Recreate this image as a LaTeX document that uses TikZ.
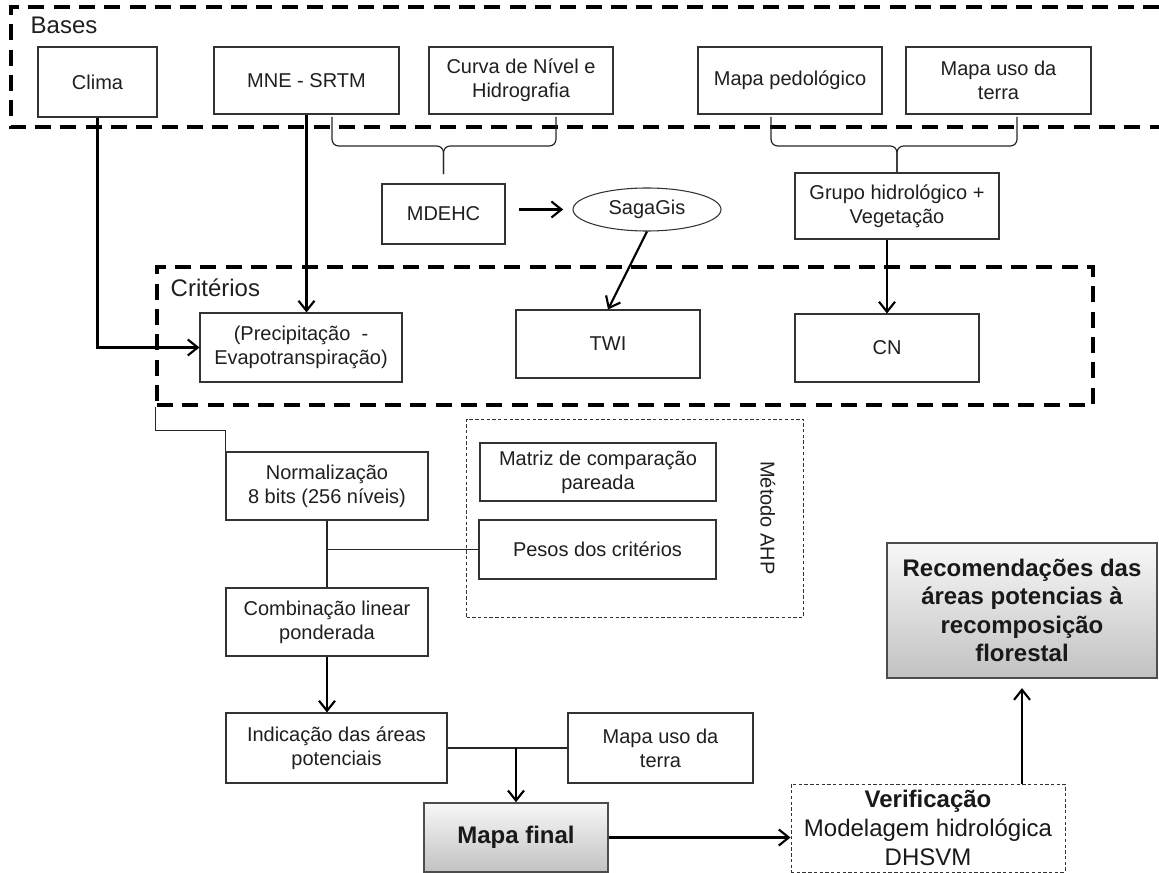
\documentclass[tikz,border=0pt]{standalone}
\usepackage{fontspec}
\setmainfont{Liberation Sans}
\usetikzlibrary{arrows.meta,shapes.geometric}
\newcommand{\pxl}{0.75pt}
\begin{document}
\begin{tikzpicture}[x=0.75pt, y=-0.75pt,
    caixa/.style={draw=black!80, fill=white, line width=0.8pt, align=center, inner sep=2pt, text=black!88, font=\fontsize{15}{18}\selectfont},
    destaque/.style={draw=black!70, line width=1.2pt, top color=gray!6, bottom color=gray!48, align=center, text=black!90, font=\fontsize{18}{21.4}\selectfont\bfseries},
    moldura/.style={draw, dash pattern=on 12pt off 7pt, line width=2.5pt},
    tracejada/.style={draw=black!80, dash pattern=on 2.5pt off 1.8pt, line width=0.75pt},
    seta/.style={-{Straight Barb[length=7.5pt,width=12pt]}, line width=1.6pt},
    linha/.style={line width=0.9pt, black!85},
    chave/.style={line width=0.9pt, black!85, rounded corners=5pt},
    rotulo/.style={anchor=west, text=black!88, font=\fontsize{18}{21}\selectfont}]
    \useasboundingbox (0,0) rectangle (1159,873);
    % molduras
    \draw[moldura] (1159,7) -- (11,7) -- (11,127) -- (1159,127);
    \node[rotulo] (bases) at (26,25) {Bases};
    \node[moldura, minimum width=936*\pxl, minimum height=138*\pxl] (criterios) at (625,336) {};
    \node[rotulo] (lcrit) at (166,288) {Critérios};
    \node[tracejada, minimum width=337*\pxl, minimum height=198*\pxl] (ahp) at (635,518) {};
    \node[rotate=-90, text=black!88, font=\fontsize{15}{18}\selectfont] (lahp) at (768,518) {Método AHP};
    % bases
    \node[caixa, minimum width=119*\pxl, minimum height=70*\pxl] (clima) at (97.5,82) {Clima};
    \node[caixa, minimum width=185*\pxl, minimum height=67*\pxl] (mne) at (306.5,80.5) {MNE - SRTM};
    \node[caixa, minimum width=184*\pxl, minimum height=67*\pxl] (curva) at (521,80.5) {Curva de Nível e\\Hidrografia};
    \node[caixa, minimum width=184*\pxl, minimum height=67*\pxl] (pedo) at (790,80.5) {Mapa pedológico};
    \node[caixa, minimum width=185*\pxl, minimum height=67*\pxl] (uso) at (998.5,80.5) {Mapa uso da\\terra};
    \node[caixa, minimum width=123*\pxl, minimum height=60*\pxl] (mdehc) at (443.5,214) {MDEHC};
    \node[caixa, ellipse, minimum width=148*\pxl, minimum height=43*\pxl, inner sep=0pt] (saga) at (647,209.5) {SagaGis};
    \node[caixa, minimum width=204*\pxl, minimum height=66*\pxl] (grupo) at (897,206) {Grupo hidrológico +\\Vegetação};
    % criterios
    \node[caixa, minimum width=202*\pxl, minimum height=69*\pxl] (precip) at (301,347.5) {(Precipitação\ \ -\\Evapotranspiração)};
    \node[caixa, minimum width=184*\pxl, minimum height=68*\pxl] (twi) at (608,344) {TWI};
    \node[caixa, minimum width=184*\pxl, minimum height=68*\pxl] (cn) at (887,348) {CN};
    % processamento
    \node[caixa, minimum width=202*\pxl, minimum height=68*\pxl] (norm) at (327,486) {Normalização\\8 bits (256 níveis)};
    \node[caixa, minimum width=236*\pxl, minimum height=58*\pxl] (matriz) at (598,472) {Matriz de comparação\\pareada};
    \node[caixa, minimum width=237*\pxl, minimum height=59*\pxl] (pesos) at (597.5,549.5) {Pesos dos critérios};
    \node[caixa, minimum width=202*\pxl, minimum height=68*\pxl] (comb) at (327,622) {Combinação linear\\ponderada};
    \node[caixa, minimum width=221*\pxl, minimum height=70*\pxl] (indic) at (336.5,748) {Indicação das áreas\\potenciais};
    \node[caixa, minimum width=185*\pxl, minimum height=70*\pxl] (uso2) at (660.5,748) {Mapa uso da\\terra};
    \node[destaque, minimum width=184*\pxl, minimum height=69*\pxl] (final) at (516,837.5) {Mapa final};
    \node[tracejada, align=center, text=black!90, font=\fontsize{18}{21.5}\selectfont, minimum width=274*\pxl, minimum height=88*\pxl] (verif) at (928,828) {\textbf{Verificação}\\Modelagem hidrológica\\DHSVM};
    \node[destaque, minimum width=270*\pxl, minimum height=135*\pxl] (recom) at (1022,610.5) {Recomendações das\\áreas potencias à\\recomposição\\florestal};
    % chaves
    \coordinate (c1a) at (332,117);
    \coordinate (c1b) at (556,117);
    \coordinate (c2a) at (771,117);
    \coordinate (c2b) at (1017,117);
    \draw[chave, shorten >=7pt] (c1a) -- ++(0,29) -| (mdehc.north);
    \draw[chave, shorten >=7pt] (c1b) -- ++(0,29) -| (mdehc.north);
    \draw[chave] (c2a) -- ++(0,29) -| (grupo.north);
    \draw[chave] (c2b) -- ++(0,29) -| (grupo.north);
    % ligacoes
    \draw[seta] (clima.south) |- (precip.west);
    \draw[seta] (mne.south) -- (mne.south |- precip.north);
    \draw[seta, shorten <=10pt, shorten >=7pt] (mdehc.east |- saga.west) -- (saga.west);
    \draw[seta] (saga.south) -- (twi.north);
    \draw[seta] (cn.north |- grupo.south) -- (cn.north);
    \draw[linha] (criterios.south west) -- ++(0,24) -| (norm.north west);
    \draw[linha] (norm.south) -- (comb.north);
    \draw[linha] (pesos.west) -- (pesos.west -| norm.south);
    \draw[seta] (comb.south) -- (comb.south |- indic.north);
    \draw[linha] (indic.east) -- (uso2.west);
    \draw[seta] (final.north |- indic.east) -- (final.north);
    \draw[seta] (final.east) -- (final.east -| verif.west);
    \draw[seta, shorten >=7pt] (verif.north -| recom.south) -- (recom.south);
\end{tikzpicture}
\end{document}
